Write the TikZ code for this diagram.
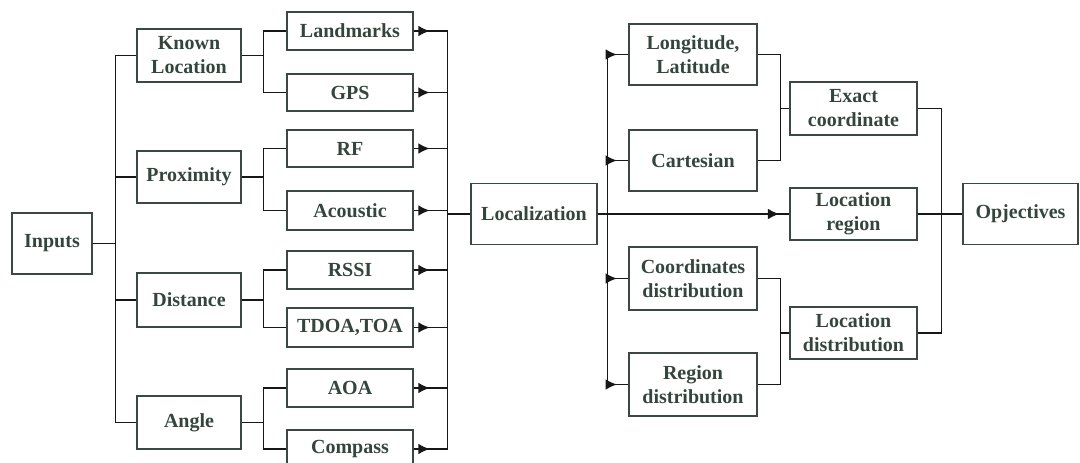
\documentclass[tikz,border=0pt]{standalone}
\usepackage{fontspec}
\setmainfont{Liberation Serif}
\usetikzlibrary{arrows.meta,decorations.markings}
\definecolor{txt}{HTML}{34463C}
\definecolor{bord}{HTML}{3C4843}
\definecolor{ln}{HTML}{161816}
\tikzset{
  box/.style={draw=bord,line width=1.1pt,align=center,inner sep=0pt,
    font=\fontsize{15pt}{18pt}\selectfont\bfseries,text=txt},
  conn/.style={draw=ln,line width=1.1pt},
  arrowat/.style={postaction={decorate},decoration={markings,
    mark=at position #1 with {\arrow{Latex[length=8.5pt,width=8pt]}}}}
}
\begin{document}
\begin{tikzpicture}[x=0.75pt,y=-0.75pt]
\useasboundingbox (0,0) rectangle (1080,463);
% first column
\node[box,minimum width=80*0.75pt,minimum height=61*0.75pt] (inp) at (52,243.5) {Inputs};
\node[box,minimum width=104*0.75pt,minimum height=53*0.75pt] (kl) at (189,55.5) {Known\\Location};
\node[box,minimum width=104*0.75pt,minimum height=52*0.75pt] (prox) at (189,177) {Proximity};
\node[box,minimum width=104*0.75pt,minimum height=54*0.75pt] (dist) at (189,300) {Distance};
\node[box,minimum width=104*0.75pt,minimum height=53*0.75pt] (ang) at (189,422.5) {Angle};
% second column
\node[box,minimum width=126*0.75pt,minimum height=38*0.75pt] (land) at (350,31) {Landmarks};
\node[box,minimum width=126*0.75pt,minimum height=37*0.75pt] (gps) at (350,92.5) {GPS};
\node[box,minimum width=126*0.75pt,minimum height=37*0.75pt] (rf) at (350,148.5) {RF};
\node[box,minimum width=126*0.75pt,minimum height=39*0.75pt] (acou) at (350,210.5) {Acoustic};
\node[box,minimum width=126*0.75pt,minimum height=38*0.75pt] (rssi) at (350,270) {RSSI};
\node[box,minimum width=126*0.75pt,minimum height=39*0.75pt] (tdoa) at (350,327.5) {TDOA,TOA};
\node[box,minimum width=126*0.75pt,minimum height=38*0.75pt] (aoa) at (350,388) {AOA};
\node[box,minimum width=126*0.75pt,minimum height=38*0.75pt] (comp) at (350,449) {Compass};
% localization
\node[box,minimum width=126*0.75pt,minimum height=61*0.75pt] (loc) at (534,214) {Localization};
% right columns
\node[box,minimum width=128*0.75pt,minimum height=61*0.75pt] (long) at (693,54.5) {Longitude,\\Latitude};
\node[box,minimum width=128*0.75pt,minimum height=61*0.75pt] (cart) at (693,160.5) {Cartesian};
\node[box,minimum width=128*0.75pt,minimum height=63*0.75pt] (cdist) at (693,278.5) {Coordinates\\distribution};
\node[box,minimum width=128*0.75pt,minimum height=63*0.75pt] (rdist) at (693,384.5) {Region\\distribution};
\node[box,minimum width=127*0.75pt,minimum height=53*0.75pt] (exact) at (853.5,108.5) {Exact\\coordinate};
\node[box,minimum width=127*0.75pt,minimum height=52*0.75pt] (lreg) at (853.5,214) {Location\\region};
\node[box,minimum width=127*0.75pt,minimum height=52*0.75pt] (ldist) at (853.5,333) {Location\\distribution};
\node[box,minimum width=115*0.75pt,minimum height=61*0.75pt] (obj) at (1020.5,214) {Opjectives};
% connectors: inputs to first level
\foreach \c in {kl,prox,dist,ang}
  \draw[conn] (inp.east) -- ++(23,0) |- (\c.west);
% first level to second level
\foreach \p/\a/\b in {kl/land/gps,prox/rf/acou,dist/rssi/tdoa,ang/aoa/comp}{
  \draw[conn] (\p.east) -- ++(22,0) |- (\a.west);
  \draw[conn] (\p.east) -- ++(22,0) |- (\b.west);
}
% second level to localization bus
\foreach \s in {land,gps,rf,acou,rssi,tdoa,aoa,comp}
  \draw[conn,arrowat=12pt] (\s.east) -- ++(34,0) |- (loc.west);
% localization to right column
\foreach \r in {long,cart,cdist,rdist}
  \draw[conn,arrowat=-8.5pt] (loc.east) -- ++(10,0) |- (\r.west);
\draw[conn,arrowat=-7.5pt] (loc.east) -- (lreg.west);
% right column to middle
\foreach \r in {long,cart}
  \draw[conn] (\r.east) -- ++(23,0) |- (exact.west);
\foreach \r in {cdist,rdist}
  \draw[conn] (\r.east) -- ++(23,0) |- (ldist.west);
% to objectives
\foreach \m in {exact,lreg,ldist}
  \draw[conn] (\m.east) -- ++(24,0) |- (obj.west);
\end{tikzpicture}
\end{document}
